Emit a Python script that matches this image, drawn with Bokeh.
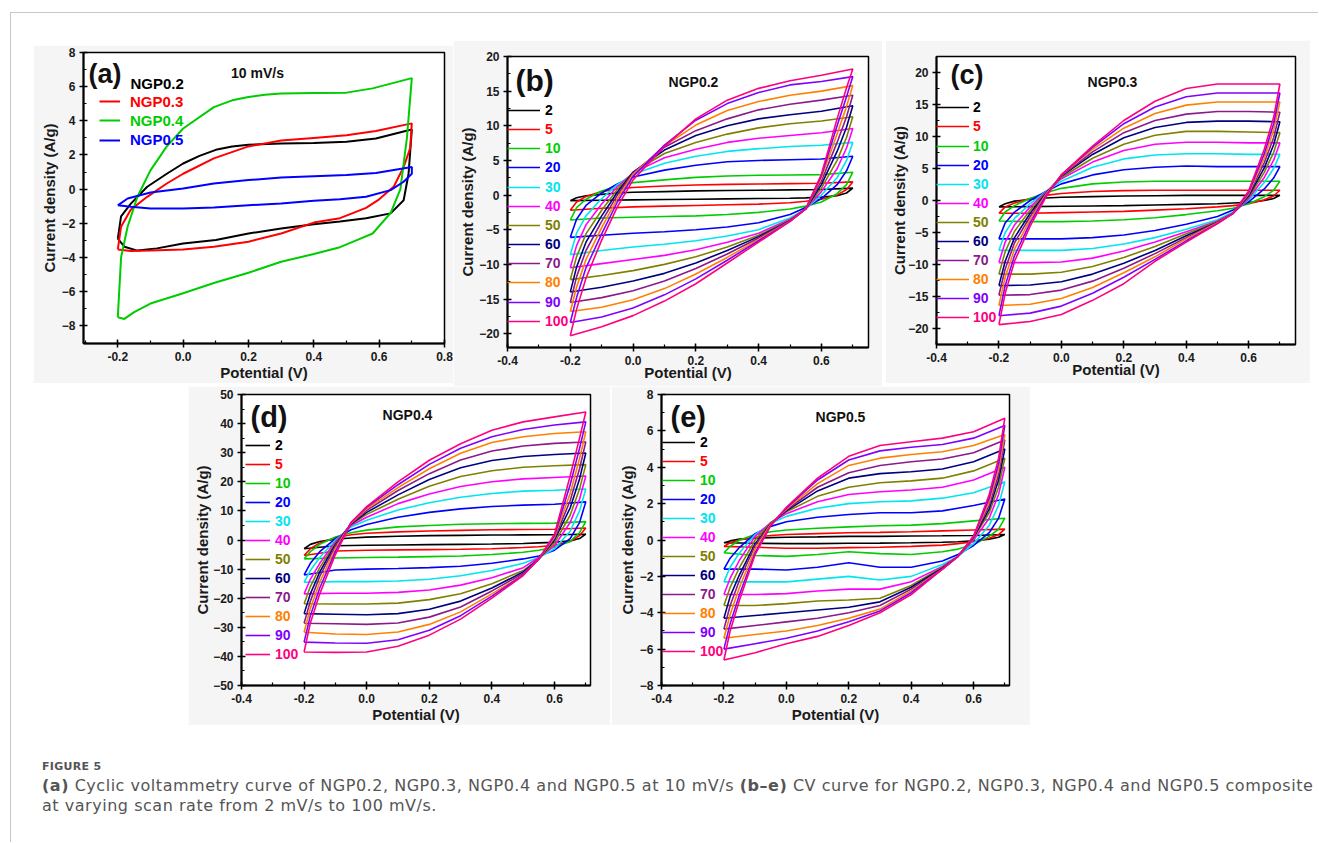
from bokeh.plotting import figure
from bokeh.models import (Range1d, SingleIntervalTicker, PrintfTickFormatter, Legend,
                          LegendItem, Label, Spacer, Div)
from bokeh.layouts import row, column
from bokeh.embed import file_html
from bokeh.resources import INLINE

FONT = "Liberation Sans"

# ---------------- panel (a): 10 mV/s ----------------
A_NAMES = ["NGP0.2", "NGP0.3", "NGP0.4", "NGP0.5"]
A_COLORS = ["#000000", "#ff0000", "#00cc00", "#0000ff"]
A_NGP02_E = [-0.2, -0.19, -0.16, -0.11, -0.05, 0.0, 0.05, 0.1, 0.15, 0.2, 0.3, 0.4, 0.5, 0.59, 0.69, 0.7,
             0.69, 0.675, 0.635, 0.56, 0.48, 0.4, 0.3, 0.2, 0.1, 0.0, -0.08, -0.14, -0.18, -0.2]
A_NGP02_I = [-2.9, -1.6, -0.85, 0.14, 0.9, 1.5, 1.95, 2.3, 2.5, 2.6, 2.67, 2.7, 2.77, 2.96, 3.45, 3.5,
             0.9, -0.65, -1.42, -1.7, -1.9, -2.06, -2.3, -2.6, -2.98, -3.18, -3.47, -3.6, -3.37, -2.9]
A_NGP03_E = [-0.2, -0.19, -0.16, -0.11, -0.05, 0.0, 0.094, 0.2, 0.3, 0.4, 0.5, 0.59, 0.7,
             0.695, 0.675, 0.645, 0.6, 0.56, 0.48, 0.4, 0.3, 0.2, 0.094, 0.0, -0.1, -0.16, -0.2]
A_NGP03_I = [-3.53, -2.2, -1.2, -0.45, 0.33, 0.9, 1.8, 2.5, 2.85, 3.0, 3.15, 3.4, 3.85,
             2.4, 1.3, 0.15, -0.6, -1.1, -1.7, -1.96, -2.6, -3.08, -3.37, -3.53, -3.6, -3.62, -3.53]
A_NGP04_E = [-0.2, -0.19, -0.17, -0.14, -0.1, -0.05, 0.0, 0.094, 0.15, 0.2, 0.25, 0.3, 0.4, 0.5, 0.58, 0.7,
             0.685, 0.665, 0.635, 0.58, 0.53, 0.48, 0.4, 0.3, 0.2, 0.094, 0.0, -0.1, -0.15, -0.18, -0.2]
A_NGP04_I = [-7.5, -4.0, -2.2, -0.45, 1.1, 2.5, 3.55, 4.8, 5.2, 5.4, 5.52, 5.6, 5.63, 5.65, 5.9, 6.5,
             3.0, 0.0, -1.4, -2.6, -3.0, -3.4, -3.8, -4.25, -4.9, -5.5, -6.1, -6.7, -7.2, -7.6, -7.5]
A_NGP05_E = [-0.2, -0.17, -0.1, 0.0, 0.094, 0.2, 0.3, 0.4, 0.5, 0.59, 0.7,
             0.7, 0.675, 0.635, 0.56, 0.48, 0.4, 0.3, 0.2, 0.094, 0.0, -0.1, -0.16, -0.2]
A_NGP05_I = [-0.95, -0.55, -0.2, 0.04, 0.33, 0.53, 0.68, 0.76, 0.82, 0.95, 1.3,
             0.9, 0.43, -0.06, -0.45, -0.6, -0.68, -0.84, -0.94, -1.07, -1.13, -1.13, -1.03, -0.95]

# ---------------- panels (b)-(e): scan-rate series ----------------
RATES = ["2", "5", "10", "20", "30", "40", "50", "60", "70", "80", "90", "100"]
RATE_COLORS = ["#000000", "#ff0000", "#00cc00", "#0000ff", "#00e5ee", "#ff00ff",
               "#808000", "#000080", "#8b1a8b", "#ff8000", "#8000ff", "#ff0080"]
E_UP = [-0.2, -0.18, -0.15, -0.1, -0.05, 0.0, 0.1, 0.2, 0.3, 0.4, 0.5, 0.6, 0.7]
E_DN = [0.7, 0.68, 0.65, 0.6, 0.55, 0.5, 0.4, 0.3, 0.2, 0.1, 0.0, -0.1, -0.2]

B_UP = [
    [-0.8, -0.4, -0.1, 0.1, 0.3, 0.4, 0.5, 0.6, 0.65, 0.7, 0.75, 0.8, 1.0],
    [-2.2, -1.0, -0.2, 0.5, 0.9, 1.1, 1.3, 1.45, 1.55, 1.6, 1.65, 1.7, 1.9],
    [-3.6, -1.8, -0.6, 0.6, 1.3, 1.8, 2.2, 2.55, 2.75, 2.85, 2.9, 2.95, 3.3],
    [-6.1, -3.5, -1.5, 0.3, 1.6, 2.6, 3.6, 4.3, 4.8, 5.0, 5.1, 5.2, 5.6],
    [-8.6, -5.5, -3.0, -0.5, 1.5, 3.0, 4.6, 5.6, 6.3, 6.7, 7.0, 7.2, 7.6],
    [-10.5, -7.3, -4.3, -1.3, 1.2, 3.2, 5.4, 6.6, 7.6, 8.2, 8.6, 9.0, 9.6],
    [-12.2, -8.9, -5.6, -2.2, 0.8, 3.3, 6.0, 7.6, 8.8, 9.7, 10.3, 10.7, 11.3],
    [-14.0, -10.4, -6.8, -3.0, 0.4, 3.3, 6.5, 8.6, 10.0, 11.0, 11.6, 12.1, 12.9],
    [-15.5, -11.8, -8.0, -3.8, 0.0, 3.2, 6.9, 9.3, 11.0, 12.3, 13.1, 13.7, 14.4],
    [-16.8, -13.3, -9.3, -4.7, -0.5, 3.0, 7.1, 10.1, 12.2, 13.5, 14.4, 15.0, 15.8],
    [-18.4, -14.8, -10.5, -5.6, -1.0, 2.7, 7.2, 10.8, 13.2, 14.8, 15.9, 16.4, 17.1],
    [-20.3, -16.5, -12.0, -6.5, -1.7, 2.2, 7.0, 11.0, 13.7, 15.4, 16.5, 17.3, 18.2],
]
B_DN = [
    [1.0, 0.3, -0.1, -0.3, -0.4, -0.45, -0.5, -0.55, -0.6, -0.65, -0.7, -0.75, -0.8],
    [1.9, 0.8, 0.0, -0.6, -0.9, -1.1, -1.3, -1.4, -1.5, -1.6, -1.7, -1.9, -2.2],
    [3.3, 1.5, 0.2, -1.0, -1.6, -2.0, -2.5, -2.8, -3.0, -3.1, -3.2, -3.3, -3.6],
    [5.6, 3.5, 1.5, -0.5, -1.8, -2.8, -4.0, -4.6, -5.0, -5.3, -5.5, -5.8, -6.1],
    [7.6, 5.0, 2.5, 0.0, -2.0, -3.3, -5.0, -5.9, -6.6, -7.1, -7.5, -8.0, -8.6],
    [9.6, 6.8, 3.8, 0.5, -2.0, -3.5, -5.5, -6.8, -7.9, -8.7, -9.3, -9.9, -10.5],
    [11.3, 8.3, 5.0, 1.0, -2.0, -3.6, -5.8, -7.5, -8.9, -10.0, -10.9, -11.6, -12.2],
    [12.9, 9.8, 6.3, 1.5, -2.0, -3.7, -6.0, -8.0, -9.8, -11.3, -12.4, -13.3, -14.0],
    [14.4, 11.3, 7.6, 2.0, -2.0, -3.7, -6.2, -8.5, -10.6, -12.4, -13.8, -14.8, -15.5],
    [15.8, 12.8, 8.8, 2.5, -2.0, -3.8, -6.4, -9.0, -11.4, -13.5, -15.1, -16.2, -16.8],
    [17.1, 14.2, 10.0, 2.8, -2.0, -3.8, -6.6, -9.4, -12.1, -14.4, -16.3, -17.6, -18.4],
    [18.2, 15.5, 11.0, 3.0, -2.0, -3.8, -6.8, -9.8, -12.8, -15.3, -17.4, -19.0, -20.3],
]

C_UP = [
    [-1.0, -0.5, -0.1, 0.2, 0.4, 0.5, 0.6, 0.7, 0.75, 0.8, 0.8, 0.8, 0.8],
    [-2.0, -1.0, -0.4, 0.3, 0.8, 1.1, 1.4, 1.55, 1.6, 1.6, 1.6, 1.6, 1.6],
    [-3.2, -1.8, -0.8, 0.3, 1.2, 1.9, 2.6, 2.9, 3.0, 3.0, 3.0, 3.0, 3.0],
    [-6.0, -3.5, -1.8, 0.0, 1.4, 2.6, 4.0, 4.8, 5.2, 5.4, 5.3, 5.3, 5.3],
    [-7.8, -5.0, -2.8, -0.5, 1.4, 3.0, 5.2, 6.5, 7.1, 7.3, 7.3, 7.2, 7.2],
    [-9.7, -6.5, -3.8, -1.0, 1.3, 3.4, 6.0, 7.8, 8.8, 9.1, 9.1, 9.0, 9.0],
    [-11.5, -8.0, -4.8, -1.5, 1.2, 3.6, 6.6, 8.8, 10.2, 10.8, 10.8, 10.7, 10.6],
    [-13.3, -9.5, -5.8, -2.0, 1.1, 3.8, 7.2, 9.8, 11.4, 12.2, 12.4, 12.4, 12.3],
    [-14.8, -10.7, -6.6, -2.5, 1.0, 3.9, 7.6, 10.6, 12.5, 13.5, 13.9, 13.9, 13.8],
    [-16.4, -12.0, -7.6, -3.0, 0.9, 4.0, 8.0, 11.3, 13.6, 14.9, 15.4, 15.4, 15.4],
    [-18.0, -13.3, -8.6, -3.5, 0.7, 4.0, 8.3, 12.0, 14.6, 16.2, 16.8, 16.8, 16.8],
    [-19.4, -14.5, -9.5, -4.0, 0.5, 4.0, 8.5, 12.5, 15.5, 17.5, 18.2, 18.2, 18.2],
]
C_DN = [
    [0.8, 0.3, 0.0, -0.3, -0.4, -0.5, -0.6, -0.7, -0.8, -0.85, -0.9, -0.95, -1.0],
    [1.6, 0.7, 0.1, -0.5, -0.8, -1.0, -1.3, -1.5, -1.7, -1.8, -1.9, -2.0, -2.0],
    [3.0, 1.6, 0.6, -0.5, -1.2, -1.6, -2.2, -2.7, -3.0, -3.2, -3.3, -3.3, -3.2],
    [5.3, 3.5, 1.8, -0.2, -1.5, -2.5, -3.7, -4.7, -5.4, -5.8, -6.0, -6.0, -6.0],
    [7.2, 5.0, 2.8, 0.1, -1.8, -3.0, -4.5, -5.8, -6.8, -7.5, -7.8, -7.8, -7.8],
    [9.0, 6.3, 3.6, 0.3, -2.0, -3.2, -4.9, -6.5, -7.9, -9.0, -9.6, -9.7, -9.7],
    [10.6, 7.5, 4.4, 0.5, -2.0, -3.3, -5.2, -7.2, -8.9, -10.3, -11.2, -11.5, -11.5],
    [12.3, 8.7, 5.1, 0.7, -2.0, -3.4, -5.5, -7.8, -9.8, -11.5, -12.7, -13.2, -13.3],
    [13.8, 9.8, 5.9, 0.9, -2.0, -3.4, -5.8, -8.3, -10.6, -12.6, -14.0, -14.7, -14.8],
    [15.4, 11.0, 6.6, 1.1, -2.0, -3.5, -6.0, -8.8, -11.3, -13.6, -15.3, -16.2, -16.4],
    [16.8, 12.0, 7.3, 1.3, -2.0, -3.6, -6.3, -9.2, -12.0, -14.5, -16.5, -17.6, -18.0],
    [18.2, 13.0, 8.0, 1.5, -2.0, -3.6, -6.5, -9.5, -13.0, -15.6, -17.8, -18.9, -19.4],
]

D_UP = [
    [-3.0, -1.5, -0.5, 0.3, 0.7, 1.0, 1.3, 1.5, 1.6, 1.7, 1.75, 1.8, 2.0],
    [-5.3, -3.0, -1.0, 0.8, 1.8, 2.3, 2.8, 3.1, 3.3, 3.5, 3.6, 3.7, 4.1],
    [-6.5, -4.0, -1.5, 1.0, 2.5, 3.4, 4.5, 5.0, 5.4, 5.6, 5.7, 5.8, 6.3],
    [-12.0, -8.0, -4.0, 0.5, 3.5, 5.3, 7.8, 9.5, 10.7, 11.5, 12.0, 12.3, 13.1],
    [-14.5, -10.5, -6.0, 0.0, 4.5, 6.8, 10.3, 12.8, 14.7, 16.0, 16.8, 17.1, 17.5],
    [-18.5, -13.5, -8.0, -0.5, 5.0, 7.8, 12.5, 15.8, 18.4, 20.0, 21.0, 21.5, 22.0],
    [-21.9, -16.0, -9.5, -1.0, 5.3, 8.8, 14.0, 18.5, 21.8, 23.8, 25.0, 25.5, 25.9],
    [-25.3, -18.5, -11.0, -1.5, 5.5, 9.5, 15.5, 20.8, 24.8, 27.3, 28.7, 29.4, 29.9],
    [-28.6, -21.0, -12.5, -2.0, 5.7, 10.2, 17.0, 22.8, 27.5, 30.6, 32.3, 33.2, 33.7],
    [-31.7, -23.5, -14.5, -3.0, 5.8, 10.7, 18.0, 24.5, 29.8, 33.5, 35.5, 36.6, 37.2],
    [-35.1, -26.0, -16.5, -4.0, 6.0, 11.2, 19.0, 26.0, 31.5, 35.5, 38.0, 39.5, 40.6],
    [-38.5, -28.5, -18.5, -5.0, 6.0, 11.5, 20.0, 27.4, 33.1, 37.7, 40.6, 42.3, 44.0],
]
D_DN = [
    [2.0, 0.5, -0.3, -0.8, -1.0, -1.2, -1.4, -1.5, -1.6, -1.7, -1.8, -2.0, -3.0],
    [4.1, 1.5, -0.5, -1.8, -2.3, -2.6, -3.0, -3.2, -3.3, -3.4, -3.5, -3.8, -5.3],
    [6.3, 2.5, -0.5, -2.5, -3.5, -4.2, -5.0, -5.5, -5.7, -5.9, -6.0, -6.2, -6.5],
    [13.1, 6.0, 0.5, -3.5, -5.5, -6.5, -8.0, -9.0, -9.5, -9.8, -10.0, -10.3, -12.0],
    [17.5, 10.0, 3.0, -3.0, -6.0, -8.0, -10.5, -12.3, -13.5, -14.1, -14.3, -14.3, -14.5],
    [22.0, 14.0, 6.0, -2.0, -6.0, -9.5, -13.0, -15.5, -17.2, -18.0, -18.3, -18.3, -18.5],
    [25.9, 17.5, 8.5, -1.0, -6.5, -10.5, -15.0, -18.5, -20.5, -21.7, -22.0, -22.0, -21.9],
    [29.9, 21.0, 11.0, 0.0, -6.5, -11.0, -16.5, -21.0, -23.8, -25.3, -25.7, -25.5, -25.3],
    [33.7, 24.5, 13.5, 0.5, -6.5, -11.5, -17.5, -23.0, -26.5, -28.5, -29.0, -28.8, -28.6],
    [37.2, 28.0, 16.0, 1.0, -6.5, -12.0, -18.5, -24.7, -29.0, -31.6, -32.5, -32.3, -31.7],
    [40.6, 31.5, 19.0, 1.5, -6.5, -12.0, -19.3, -26.0, -31.0, -34.3, -35.5, -35.4, -35.1],
    [44.0, 35.0, 22.0, 2.0, -6.5, -12.2, -20.0, -27.2, -32.7, -36.5, -38.5, -38.6, -38.5],
]

E_UPV = [
    [-0.15, -0.05, 0.05, 0.1, 0.13, 0.15, 0.17, 0.2, 0.2, 0.22, 0.23, 0.25, 0.3],
    [-0.35, -0.15, 0.0, 0.15, 0.25, 0.3, 0.35, 0.4, 0.42, 0.45, 0.5, 0.55, 0.6],
    [-0.7, -0.35, 0.0, 0.3, 0.45, 0.55, 0.65, 0.72, 0.78, 0.82, 0.9, 1.05, 1.2],
    [-1.6, -1.0, -0.4, 0.35, 0.75, 1.0, 1.25, 1.4, 1.5, 1.5, 1.6, 1.9, 2.25],
    [-2.3, -1.5, -0.7, 0.3, 0.9, 1.3, 1.75, 2.0, 2.1, 2.15, 2.3, 2.6, 3.2],
    [-3.0, -2.1, -1.1, 0.2, 0.95, 1.45, 2.1, 2.5, 2.65, 2.75, 2.9, 3.3, 4.0],
    [-3.6, -2.6, -1.5, 0.0, 0.95, 1.55, 2.4, 2.9, 3.15, 3.25, 3.4, 3.8, 4.5],
    [-4.3, -3.1, -1.9, -0.2, 0.9, 1.6, 2.7, 3.4, 3.65, 3.75, 3.9, 4.3, 5.0],
    [-4.9, -3.6, -2.2, -0.3, 0.9, 1.65, 2.9, 3.7, 4.1, 4.3, 4.45, 4.8, 5.5],
    [-5.4, -4.1, -2.6, -0.5, 0.85, 1.7, 3.1, 4.1, 4.5, 4.7, 4.85, 5.2, 5.8],
    [-6.0, -4.6, -3.0, -0.7, 0.8, 1.75, 3.3, 4.4, 4.9, 5.1, 5.25, 5.6, 6.3],
    [-6.6, -5.0, -3.3, -0.8, 0.8, 1.8, 3.4, 4.6, 5.2, 5.4, 5.6, 5.95, 6.7],
]
E_DNV = [
    [0.3, 0.15, 0.05, -0.05, -0.1, -0.12, -0.15, -0.17, -0.18, -0.2, -0.2, -0.18, -0.15],
    [0.6, 0.3, 0.1, -0.1, -0.2, -0.28, -0.35, -0.4, -0.42, -0.45, -0.45, -0.4, -0.35],
    [1.2, 0.6, 0.2, -0.25, -0.5, -0.65, -0.8, -0.75, -0.65, -0.8, -0.9, -0.85, -0.7],
    [2.25, 1.2, 0.4, -0.3, -0.8, -1.15, -1.5, -1.5, -1.25, -1.5, -1.65, -1.6, -1.6],
    [3.2, 1.9, 0.8, -0.2, -0.9, -1.35, -2.0, -2.2, -2.0, -2.15, -2.3, -2.3, -2.3],
    [4.0, 2.5, 1.2, 0.0, -0.9, -1.45, -2.3, -2.7, -2.7, -2.8, -2.95, -3.0, -3.0],
    [4.5, 2.9, 1.5, 0.1, -0.9, -1.5, -2.5, -3.2, -3.3, -3.35, -3.5, -3.6, -3.6],
    [5.0, 3.3, 1.7, 0.15, -0.9, -1.55, -2.6, -3.4, -3.7, -3.85, -4.0, -4.15, -4.3],
    [5.5, 3.6, 1.9, 0.2, -0.9, -1.6, -2.7, -3.6, -4.0, -4.3, -4.5, -4.7, -4.9],
    [5.8, 3.9, 2.1, 0.2, -0.9, -1.6, -2.8, -3.8, -4.3, -4.7, -5.0, -5.2, -5.4],
    [6.3, 4.2, 2.3, 0.2, -0.9, -1.6, -2.9, -3.9, -4.5, -5.0, -5.4, -5.7, -6.0],
    [6.7, 4.5, 2.5, 0.2, -0.9, -1.6, -3.0, -4.0, -4.7, -5.3, -5.7, -6.2, -6.6],
]

TITLES = ["10 mV/s", "NGP0.2", "NGP0.3", "NGP0.4", "NGP0.5"]
PANEL_TAGS = ["(a)", "(b)", "(c)", "(d)", "(e)"]


def make_fig(w, h, bl, br, bt, bb, xr, yr, yint, ylab_stand, xlab_stand):
    p = figure(width=w, height=h, x_range=Range1d(*xr), y_range=Range1d(*yr),
               output_backend="svg", toolbar_location=None,
               min_border_left=bl, min_border_right=br, min_border_top=bt, min_border_bottom=bb)
    p.border_fill_color = "#f5f5f5"
    p.background_fill_color = "white"
    p.outline_line_color = "black"
    p.outline_line_width = 1.5
    p.xgrid.visible = False
    p.ygrid.visible = False
    p.xaxis.ticker = SingleIntervalTicker(interval=0.2, num_minor_ticks=2)
    p.xaxis.formatter = PrintfTickFormatter(format="%.1f")
    p.yaxis.ticker = SingleIntervalTicker(interval=yint, num_minor_ticks=2)
    for ax in (p.xaxis[0], p.yaxis[0]):
        ax.axis_line_width = 2
        ax.major_tick_in = 4
        ax.major_tick_out = 4
        ax.minor_tick_in = 3
        ax.minor_tick_out = 0
        ax.major_tick_line_width = 1.5
        ax.minor_tick_line_width = 1.2
        ax.major_label_text_font = FONT
        ax.major_label_text_font_style = "bold"
        ax.major_label_text_font_size = "12px"
        ax.major_label_text_color = "#1a1a1a"
        ax.major_label_standoff = 4
        ax.axis_label_text_font = FONT
        ax.axis_label_text_font_style = "bold"
        ax.axis_label_text_font_size = "15px"
        ax.axis_label_text_color = "#1a1a1a"
    p.xaxis.axis_label = "Potential (V)"
    p.yaxis.axis_label = "Current density (A/g)"
    p.xaxis.axis_label_standoff = xlab_stand
    p.yaxis.axis_label_standoff = ylab_stand
    return p


def add_label(p, text, x, yc, size, color="#111111", align="left"):
    p.add_layout(Label(x=x, y=yc, x_units="screen", y_units="screen", text=text,
                       text_font=FONT, text_font_style="bold", text_font_size=size,
                       text_baseline="middle", text_align=align, text_color=color))


def add_item_legend(p, r, label, color, x, yc, gw, standoff, fs):
    h = 16
    lg = Legend(items=[LegendItem(label=label, renderers=[r])], location=(x, yc - h / 2),
                padding=0, margin=0, spacing=0, glyph_width=gw, glyph_height=h,
                label_height=h, label_standoff=standoff, label_text_color=color,
                label_text_font=FONT, label_text_font_style="bold", label_text_font_size=fs,
                background_fill_alpha=0, border_line_alpha=0)
    p.add_layout(lg)


# ---- (a)
pa = make_fig(420, 338, 50, 9, 7, 40, (-0.305, 0.8), (-9.04, 8), 2, 1, 0)
A_E = [A_NGP02_E, A_NGP03_E, A_NGP04_E, A_NGP05_E]
A_I = [A_NGP02_I, A_NGP03_I, A_NGP04_I, A_NGP05_I]
a_rend = []
for e, i, c in zip(A_E, A_I, A_COLORS):
    a_rend.append(pa.line(e, i, line_color=c, line_width=2))
add_label(pa, A_NAMES[0], 47, 260, "15px", color=A_COLORS[0])
for k, yc in zip([1, 2, 3], [241.3, 222.3, 203]):
    add_item_legend(pa, a_rend[k], A_NAMES[k], A_COLORS[k], 16, yc, 21, 10, "15px")
add_label(pa, PANEL_TAGS[0], 5, 270, "27px")
add_label(pa, TITLES[0], 174, 271, "14px", align="center")


def rate_panel(w, h, bl, br, bt, bb, xr, yr, yint, ys, xs, up, dn,
               leg_x, leg_top, leg_step, gw, lstand, tag, tag_x, tag_y, tag_fs, title, tx, ty):
    p = make_fig(w, h, bl, br, bt, bb, xr, yr, yint, ys, xs)
    for k in range(len(RATES)):
        r = p.line(E_UP + E_DN, up[k] + dn[k], line_color=RATE_COLORS[k], line_width=1.6)
        add_item_legend(p, r, RATES[k], RATE_COLORS[k], leg_x, leg_top - k * leg_step,
                        gw, lstand, "14px")
    add_label(p, tag, tag_x, tag_y, tag_fs)
    add_label(p, title, tx, ty, "14px", align="center")
    return p


pb = rate_panel(429, 346, 54, 14, 16, 39, (-0.4, 0.75), (-22, 20), 5, 0, -4, B_UP, B_DN,
                0, 237, 19.15, 33, 5, PANEL_TAGS[1], 8, 267, "30px", TITLES[1], 186, 266)
pc = rate_panel(425, 343, 51, 15, 15, 37, (-0.4, 0.75), (-22.5, 22.5), 5, -3, -4, C_UP, C_DN,
                0, 236.7, 19.1, 33, 4, PANEL_TAGS[2], 14, 269.5, "27px", TITLES[2], 176, 263)
pd = rate_panel(422, 339, 53, 20, 8, 40, (-0.4, 0.715), (-50, 50), 10, -1, 0, D_UP, D_DN,
                4, 240, 19.03, 25, 5, PANEL_TAGS[3], 9, 269, "29px", TITLES[3], 166, 271)
pe = rate_panel(419, 339, 50, 21, 8, 40, (-0.4, 0.715), (-8, 8), 2, 1, 0, E_UPV, E_DNV,
                1, 242.7, 18.95, 33, 5, PANEL_TAGS[4], 9, 269, "29px", TITLES[4], 179, 269)

CAPTION_HEAD = "FIGURE 5"
CAPTION_L1 = ("<b>(a)</b> Cyclic voltammetry curve of NGP0.2, NGP0.3, NGP0.4 and NGP0.5 at 10 mV/s "
              "<b>(b\u2013e)</b> CV curve for NGP0.2, NGP0.3, NGP0.4 and NGP0.5 composite")
CAPTION_L2 = "at varying scan rate from 2 mV/s to 100 mV/s."

caption = Div(
    text=("<div style=\"font-family:'DejaVu Sans';color:#555555;white-space:nowrap;margin:0;padding:0;\">"
          "<div style='font-size:11px;font-weight:bold;line-height:19px;letter-spacing:0.3px;'>"
          + CAPTION_HEAD + "</div>"
          "<div style='font-size:16px;letter-spacing:0.53px;line-height:19.5px;'>" + CAPTION_L1 +
          "<br>" + CAPTION_L2 + "</div></div>"),
    width=1276, height=62, margin=(0, 0, 0, 0))

RULE = "#c8c8c8"
top_line = Spacer(width=1308, height=1, styles={"background-color": RULE})
left_line = Spacer(width=1, height=829, styles={"background-color": RULE})

row1 = row(Spacer(width=22), column(Spacer(height=5), pa), pb, Spacer(width=3), pc)
row2 = row(Spacer(width=177), pd, Spacer(width=1), pe)
content = column(Spacer(height=27), row1, row2, Spacer(height=32), row(Spacer(width=31), caption))
page = column(Spacer(height=12), row(Spacer(width=10), top_line),
              row(Spacer(width=10), left_line, content))

open("out.html", "w").write(file_html(page, INLINE))
